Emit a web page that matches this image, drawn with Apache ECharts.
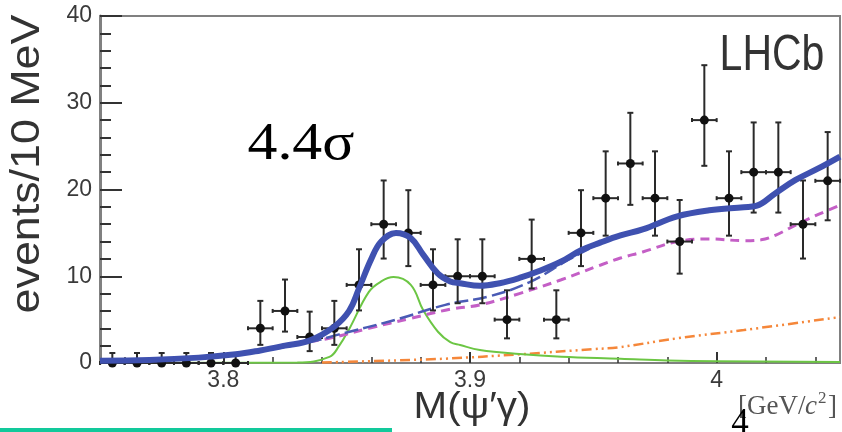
<!DOCTYPE html>
<html>
<head>
<meta charset="utf-8">
<script src="https://cdn.jsdelivr.net/npm/echarts@6/dist/echarts.min.js"></script>
<style>html,body{margin:0;padding:0;background:#fff;}#c{width:842px;height:432px;}</style>
</head>
<body>
<div id="c"></div>
<script>
// ---- data ----
const binCenters = [3.755,3.765,3.775,3.785,3.795,3.805,3.815,3.825,3.835,3.845,3.855,3.865,3.875,3.885,3.895,3.905,3.915,3.925,3.935,3.945,3.955,3.965,3.975,3.985,3.995,4.005,4.015,4.025,4.035,4.045];
const counts     = [0,0,0,0,0,0,4,6,3,4,9,16,15,9,10,10,5,12,5,15,19,23,19,14,28,19,22,22,16,21];
const errUp      = [1.15,1.15,1.15,1.15,1.15,1.15,3.16,3.62,2.92,3.16,4.11,5.04,4.92,4.11,4.26,4.26,3.38,4.53,3.38,4.92,5.40,5.84,5.40,4.79,6.33,5.40,5.73,5.73,5.04,5.62];
const errDown    = [0,0,0,0,0,0,1.91,2.38,1.63,1.91,2.94,3.96,3.83,2.94,3.11,3.11,2.16,3.41,2.16,3.83,4.32,4.77,4.32,3.70,5.27,4.32,4.66,4.66,3.96,4.55];
const binHalfWidth = 0.005;

const totalX = [3.750,3.770,3.790,3.805,3.815,3.825,3.835,3.845,3.851,3.855,3.860,3.864,3.870,3.876,3.881,3.887,3.892,3.896,3.904,3.912,3.920,3.928,3.937,3.945,3.953,3.961,3.970,3.984,3.997,4.011,4.016,4.024,4.032,4.041,4.050];
const totalY = [0.27,0.35,0.62,1.0,1.45,2.0,2.6,4.2,6.0,8.6,12.0,14.0,15.0,14.4,12.5,10.3,9.4,9.2,8.9,9.2,9.8,10.6,11.7,13.0,13.9,14.7,15.4,16.9,17.6,17.95,18.1,19.6,21.1,22.4,23.8];

const bgX = [3.750,3.790,3.815,3.835,3.847,3.870,3.890,3.908,3.924,3.940,3.953,3.960];
const bgY = [0.27,0.6,1.4,2.4,3.3,5.0,6.7,7.7,9.3,11.9,13.8,14.5];

const magX = [3.835,3.843,3.859,3.876,3.892,3.904,3.920,3.937,3.953,3.961,3.970,3.984,3.997,4.011,4.018,4.024,4.032,4.041,4.050];
const magY = [2.5,2.85,4.0,5.15,6.2,6.7,8.0,9.6,11.3,12.1,12.8,14.0,14.3,14.1,14.2,14.75,15.9,17.1,18.2];

const sigX = [3.750,3.830,3.843,3.847,3.851,3.859,3.864,3.869,3.876,3.881,3.887,3.892,3.896,3.904,3.920,3.937,3.961,3.980,4.000,4.050];
const sigY = [0,0.05,0.7,2.0,3.9,8.2,9.4,9.9,9.0,6.1,3.6,2.4,2.07,1.5,1.04,0.73,0.5,0.3,0.2,0.12];

const orangeX = [3.840,3.870,3.890,3.920,3.950,3.960,3.984,4.011,4.050];
const orangeY = [0.05,0.3,0.5,1.0,1.6,1.8,2.85,3.8,5.3];

const xTickLabels = [3.8,3.9,4.0];
const xMinorTicks = [3.76,3.78,3.82,3.84,3.86,3.88,3.92,3.94,3.96,3.98,4.02,4.04];

// ---- chart ----
const pair = (xs, ys) => xs.map((x, i) => [x, ys[i]]);
const pts = binCenters.map((x, i) => [x, counts[i], errUp[i], errDown[i]]);
const FONT = '"Liberation Sans", Arial, sans-serif';
const SERIF = '"Liberation Serif", "Times New Roman", serif';

const chart = echarts.init(document.getElementById('c'), null, {renderer: 'canvas'});
chart.setOption({
  animation: false,
  backgroundColor: '#fff',
  grid: {left: 100, top: 16, right: 2, bottom: 69, show: true, borderColor: '#808080', borderWidth: 2, backgroundColor: 'transparent'},
  xAxis: [{
    type: 'value', min: 3.75, max: 4.05,
    axisLine: {show: true, lineStyle: {color: '#808080', width: 2}},
    axisTick: {show: true, inside: true, length: 11, customValues: xTickLabels, lineStyle: {color: '#333', width: 2}},
    axisLabel: {show: true, customValues: xTickLabels, margin: 6, fontSize: 23, color: '#3a3a3a', fontFamily: FONT,
      formatter: v => (Math.abs(v - 4) < 1e-9 ? '4' : v.toFixed(1))},
    splitLine: {show: false}
  }, {
    type: 'value', min: 3.75, max: 4.05, position: 'bottom',
    axisLine: {show: false},
    axisTick: {show: true, inside: true, length: 6, customValues: xMinorTicks, lineStyle: {color: '#333', width: 1.5}},
    axisLabel: {show: false},
    splitLine: {show: false}
  }],
  yAxis: {
    type: 'value', min: 0, max: 40, interval: 10,
    axisLine: {show: true, lineStyle: {color: '#808080', width: 3}},
    axisTick: {show: true, inside: true, length: 22, lineStyle: {color: '#333', width: 2}},
    minorTick: {show: true, splitNumber: 5, length: 11, lineStyle: {color: '#333', width: 2}},
    axisLabel: {margin: 8, fontSize: 23, color: '#3a3a3a', fontFamily: FONT},
    splitLine: {show: false}
  },
  series: [
    {type: 'line', data: pair(orangeX, orangeY), showSymbol: false, smooth: 0.4, z: 2,
     lineStyle: {color: '#f5873a', width: 2.5, type: [10,4,2,4,2,4]}},
    {type: 'line', data: pair(sigX, sigY), showSymbol: false, smooth: 0.4, z: 2,
     lineStyle: {color: '#6cc644', width: 2}},
    {type: 'line', data: pair(magX, magY), showSymbol: false, smooth: 0.4, z: 2,
     lineStyle: {color: '#c45fc6', width: 3, type: [9,6]}},
    {type: 'line', data: pair(bgX, bgY), showSymbol: false, smooth: 0.4, z: 2,
     lineStyle: {color: '#4a5bb5', width: 2.5, type: [14,5]}},
    {type: 'custom', data: pts, z: 3, clip: false,
     renderItem: function (params, api) {
       const x = api.value(0), y = api.value(1), up = api.value(2), dn = api.value(3);
       const c = api.coord([x, y]);
       const t = api.coord([x, y + up]);
       const b = api.coord([x, y - dn]);
       const l = api.coord([x - binHalfWidth, y]);
       const r = api.coord([x + binHalfWidth, y]);
       const st = {stroke: '#2a2a2a', lineWidth: 2};
       const children = [
         {type: 'line', shape: {x1: c[0], y1: t[1], x2: c[0], y2: b[1]}, style: st},
         {type: 'line', shape: {x1: c[0] - 3, y1: t[1], x2: c[0] + 3, y2: t[1]}, style: st},
         {type: 'line', shape: {x1: l[0], y1: c[1], x2: r[0], y2: c[1]}, style: st},
         {type: 'line', shape: {x1: l[0], y1: c[1] - 2, x2: l[0], y2: c[1] + 2}, style: st},
         {type: 'line', shape: {x1: r[0], y1: c[1] - 2, x2: r[0], y2: c[1] + 2}, style: st},
         {type: 'circle', shape: {cx: c[0], cy: c[1], r: 4.5}, style: {fill: '#111'}}
       ];
       if (dn > 0) children.push({type: 'line', shape: {x1: c[0] - 3, y1: b[1], x2: c[0] + 3, y2: b[1]}, style: st});
       return {type: 'group', children: children};
     }},
    {type: 'line', data: pair(totalX, totalY), showSymbol: false, smooth: 0.4, z: 4,
     lineStyle: {color: '#3f51b0', width: 6}}
  ],
  graphic: [
    {type: 'text', x: 28, y: 164, rotation: Math.PI / 2, scaleX: 1.12,
     style: {text: 'events/10 MeV', font: '40px ' + FONT, fill: '#333', align: 'center', verticalAlign: 'middle'}},
    {type: 'text', x: 772, y: 56, scaleY: 1.2,
     style: {text: 'LHCb', font: '41px ' + FONT, fill: '#333', align: 'center', verticalAlign: 'middle'}},
    {type: 'text', x: 301, y: 145, scaleX: 1.15,
     style: {text: '4.4σ', font: '52px ' + SERIF, fill: '#000', align: 'center', verticalAlign: 'middle'}},
    {type: 'text', x: 472, y: 408, scaleX: 1.12,
     style: {text: 'M(ψ′γ)', font: '36px ' + FONT, fill: '#333', align: 'center', verticalAlign: 'middle'}},
    {type: 'text', x: 738, y: 407,
     style: {text: '[GeV/', font: '27px ' + SERIF, fill: '#555', align: 'left', verticalAlign: 'middle'}},
    {type: 'text', x: 805, y: 407,
     style: {text: 'c', font: 'italic 27px ' + SERIF, fill: '#555', align: 'left', verticalAlign: 'middle'}},
    {type: 'text', x: 818, y: 399,
     style: {text: '2', font: '17px ' + SERIF, fill: '#555', align: 'left', verticalAlign: 'middle'}},
    {type: 'text', x: 828, y: 407,
     style: {text: ']', font: '27px ' + SERIF, fill: '#555', align: 'left', verticalAlign: 'middle'}},
    {type: 'text', x: 740, y: 424,
     style: {text: '4', font: '35px ' + SERIF, fill: '#000', align: 'center', verticalAlign: 'middle'}},
    {type: 'rect', shape: {x: 0, y: 428, width: 392, height: 4}, style: {fill: '#12c99b'}}
  ]
});
</script>
</body>
</html>
